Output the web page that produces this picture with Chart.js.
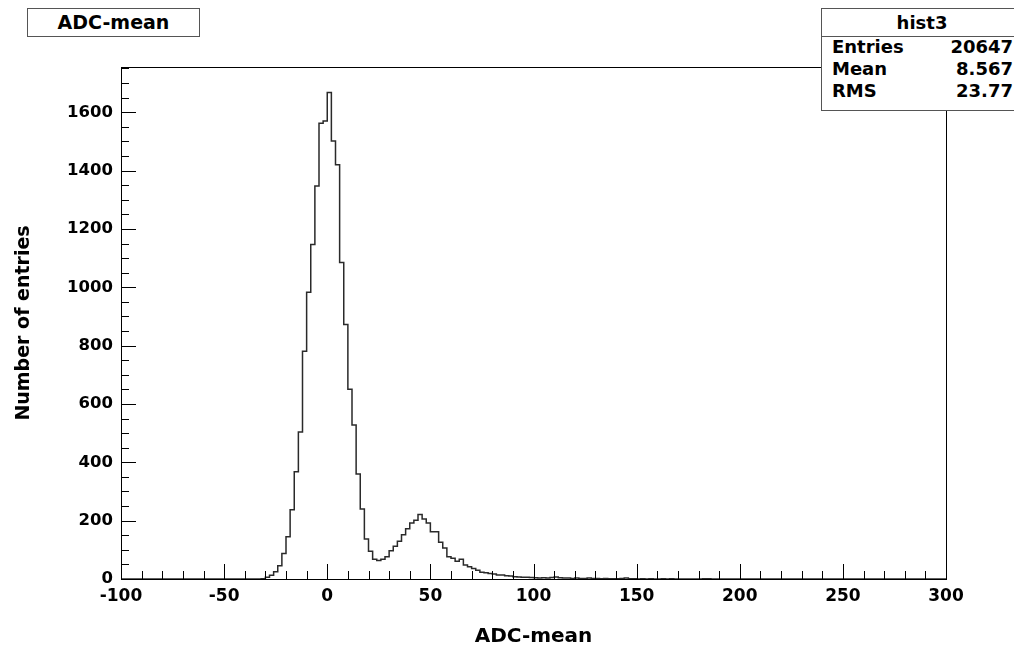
<!DOCTYPE html>
<html>
<head>
<meta charset="utf-8">
<script src="https://cdn.jsdelivr.net/npm/chart.js@4/dist/chart.umd.min.js"></script>
<style>
  html, body { margin: 0; padding: 0; background: #fff; overflow: hidden; }
  #wrap { position: relative; width: 1014px; height: 646px; overflow: hidden; }
  canvas { position: absolute; left: 0; top: 0; }
  .box { position: absolute; background: #fff; border: 1px solid #555; font-family: "DejaVu Sans", sans-serif; font-weight: bold; color: #000; box-sizing: border-box; }
  #titlebox { left: 27px; top: 8px; width: 173px; height: 29px; font-size: 19px; text-align: center; line-height: 27px; }
  #statbox { left: 821px; top: 8px; width: 210px; height: 103px; font-size: 18px; }
  #statbox .hdr { height: 27px; line-height: 27px; text-align: center; border-bottom: 1px solid #555; padding-right: 8px; }
  #statbox .row { position: relative; height: 22px; line-height: 22px; }
  #statbox .row .k { position: absolute; left: 10px; }
  #statbox .row .v { position: absolute; right: 17px; }
</style>
</head>
<body>
<div id="wrap">
  <canvas id="c" width="1014" height="646"></canvas>
  <div class="box" id="titlebox">ADC-mean</div>
  <div class="box" id="statbox">
    <div class="hdr">hist3</div>
    <div class="row" style="margin-top:-1px"><span class="k">Entries</span><span class="v">20647</span></div>
    <div class="row"><span class="k">Mean</span><span class="v">8.567</span></div>
    <div class="row"><span class="k">RMS</span><span class="v">23.77</span></div>
  </div>
</div>
<script>
// ---- histogram definition (ROOT TH1, 200 bins from -100 to 300) ----
const histName = "hist3";
const xMin = -100;
const xMax = 300;
const binWidth = 2;
// counts per bin, bins in order of increasing x (10 per row)
const counts = [
  0,0,0,0,0,0,0,0,0,0,
  0,0,0,0,0,0,0,0,0,0,
  0,0,0,0,0,0,0,0,0,0,
  0,0,0,0,1,6,13,25,45,87,
  145,237,368,504,781,983,1147,1347,1562,1570,
  1668,1501,1420,1085,872,650,528,360,240,137,
  95,68,63,68,76,97,112,129,152,172,
  192,201,221,206,192,162,162,126,106,76,
  71,61,68,48,42,36,30,23,21,19,
  17,14,14,11,10,8,7,6,6,5,
  4,3,4,3,5,7,4,3,3,2,
  3,2,2,3,2,2,1,2,1,1,
  1,2,3,1,1,0,1,0,1,0,
  0,1,0,1,0,0,0,0,0,0,
  0,1,1,0,0,0,0,0,0,0,
  0,0,0,0,0,0,0,0,0,0,
  0,0,0,0,0,0,0,0,0,0,
  0,0,0,0,0,0,0,0,0,0,
  0,0,0,0,0,0,0,0,0,0,
  0,0,0,0,0,0,0,0,0,0
];
const yMax = 1755;
const xTickStep = 50, xMinorStep = 10;
const yTickStep = 200, yMinorStep = 50;
const xTitle = "ADC-mean";
const yTitle = "Number of entries";

// build step points (left edge of each bin, plus closing right edge)
const pts = counts.map((c, i) => ({ x: xMin + i * binWidth, y: c }));
pts.push({ x: xMax, y: counts[counts.length - 1] });

const FONT = "'DejaVu Sans', sans-serif";

const rootTicks = {
  id: 'rootTicks',
  afterDraw(chart) {
    const { ctx, chartArea: a, scales: { x, y } } = chart;
    ctx.save();
    ctx.strokeStyle = '#000';
    ctx.lineWidth = 1;
    ctx.beginPath();
    for (let v = xMin; v <= xMax + 1e-9; v += xMinorStep) {
      const px = Math.round(x.getPixelForValue(v)) + 0.5;
      const len = (Math.abs(v % xTickStep) < 1e-9) ? 15 : 8;
      ctx.moveTo(px, a.bottom);
      ctx.lineTo(px, a.bottom - len);
    }
    for (let v = 0; v <= yMax; v += yMinorStep) {
      const py = Math.round(y.getPixelForValue(v)) + 0.5;
      const len = (v % yTickStep === 0) ? 15 : 8;
      ctx.moveTo(a.left, py);
      ctx.lineTo(a.left + len, py);
    }
    ctx.stroke();
    ctx.lineWidth = 1;
    ctx.strokeRect(Math.round(a.left) + 0.5, Math.round(a.top) + 0.5, Math.round(a.right - a.left), Math.round(a.bottom - a.top));
    ctx.restore();
  }
};

new Chart(document.getElementById('c'), {
  type: 'line',
  data: {
    datasets: [{
      label: histName,
      data: pts,
      stepped: true,
      borderColor: '#2a2a2a',
      borderWidth: 1.5,
      pointRadius: 0,
      fill: false,
      tension: 0
    }]
  },
  options: {
    responsive: false,
    animation: false,
    layout: { padding: { left: 0, top: 67, right: 68, bottom: 0 } },
    plugins: { legend: { display: false }, tooltip: { enabled: false }, title: { display: false } },
    scales: {
      x: {
        type: 'linear', min: xMin, max: xMax,
        grid: { display: false, drawTicks: false },
        border: { display: false },
        ticks: { stepSize: xTickStep, padding: 7, color: '#000', maxRotation: 0,
                 callback: v => String(v),
                 font: { family: FONT, weight: 'bold', size: 17 } },
        title: { display: true, text: xTitle, color: '#000', padding: { top: 0, bottom: -3 },
                 font: { family: FONT, weight: 'bold', size: 20 } },
        afterFit(s) { s.height = 67; }
      },
      y: {
        type: 'linear', min: 0, max: yMax,
        grid: { display: false, drawTicks: false },
        border: { display: false },
        ticks: { stepSize: yTickStep, padding: 8, color: '#000', includeBounds: false,
                 callback: v => String(v),
                 font: { family: FONT, weight: 'bold', size: 16.5 } },
        title: { display: true, text: yTitle, color: '#000', padding: { top: 13, bottom: 0 },
                 font: { family: FONT, weight: 'bold', size: 19 } },
        afterFit(s) { s.width = 121; }
      }
    }
  },
  plugins: [rootTicks]
});
</script>
</body>
</html>
